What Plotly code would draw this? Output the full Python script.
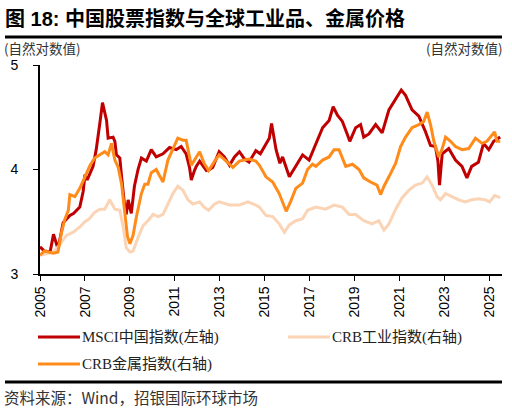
import plotly.graph_objects as go

# MSCI中国指数 (自然对数值, 左轴)
msci_t = [2005.0, 2005.2, 2005.45, 2005.6, 2005.8, 2006.03, 2006.33, 2006.5, 2006.77, 2006.92,
          2007.0, 2007.1, 2007.36, 2007.5, 2007.66, 2007.78, 2007.96, 2008.03, 2008.25, 2008.33,
          2008.4, 2008.55, 2008.63, 2008.77, 2008.84, 2008.92, 2009.06, 2009.2, 2009.36, 2009.51,
          2009.73, 2009.95, 2010.17, 2010.47, 2010.76, 2011.06, 2011.28, 2011.5, 2011.65, 2011.73,
          2011.87, 2011.95, 2012.1, 2012.4, 2012.54, 2012.68, 2012.97, 2013.2, 2013.43, 2013.65,
          2013.87, 2014.1, 2014.3, 2014.6, 2014.8, 2015.05, 2015.2, 2015.3, 2015.5, 2015.67,
          2015.79, 2016.09, 2016.38, 2016.68, 2016.97, 2017.27, 2017.57, 2017.86, 2018.04, 2018.23,
          2018.45, 2018.68, 2018.78, 2019.04, 2019.26, 2019.4, 2019.63, 2019.93, 2020.1, 2020.22,
          2020.52, 2020.82, 2021.07, 2021.26, 2021.55, 2021.85, 2022.15, 2022.37, 2022.59, 2022.7,
          2022.77, 2022.89, 2023.18, 2023.48, 2023.77, 2023.99, 2024.2, 2024.5, 2024.73, 2024.96,
          2025.18, 2025.47]
msci_v = [3.26, 3.22, 3.21, 3.38, 3.24, 3.49, 3.56, 3.58, 3.64, 3.79,
          3.95, 3.90, 4.03, 4.19, 4.44, 4.64, 4.47, 4.30, 4.31, 4.27,
          4.14, 4.11, 3.93, 3.64, 3.57, 3.71, 3.58, 3.84, 4.00, 4.11,
          4.08, 4.19, 4.12, 4.15, 4.21, 4.19, 4.22, 4.15, 4.02, 3.90,
          3.99, 4.03, 4.08, 3.99, 4.00, 4.02, 4.17, 4.12, 4.04, 4.12,
          4.17, 4.10, 4.07, 4.18, 4.15, 4.25, 4.30, 4.44, 4.19, 4.06,
          4.12, 3.93, 4.03, 4.14, 4.09, 4.25, 4.40, 4.47, 4.60, 4.52,
          4.46, 4.33, 4.27, 4.40, 4.43, 4.31, 4.34, 4.43, 4.38, 4.35,
          4.57, 4.67, 4.76, 4.71, 4.57, 4.51, 4.36, 4.23, 4.22, 4.08,
          3.85, 4.15, 4.20, 4.09, 4.03, 3.92, 4.03, 4.07, 4.25, 4.19,
          4.27, 4.31]

# CRB工业指数 (右轴)
ind_t = [2005.0, 2005.6, 2005.8, 2006.18, 2006.48, 2006.77, 2007.0, 2007.2, 2007.43, 2007.66,
         2007.88, 2008.1, 2008.33, 2008.55, 2008.7, 2008.84, 2009.0, 2009.14, 2009.36, 2009.58,
         2009.8, 2010.03, 2010.25, 2010.47, 2010.69, 2010.91, 2011.13, 2011.36, 2011.58, 2011.8,
         2012.1, 2012.3, 2012.5, 2012.77, 2012.97, 2013.43, 2013.87, 2014.25, 2014.6, 2014.76,
         2015.05, 2015.35, 2015.64, 2015.87, 2016.09, 2016.38, 2016.68, 2016.9, 2017.27, 2017.7,
         2018.08, 2018.45, 2018.75, 2019.04, 2019.4, 2019.77, 2020.07, 2020.3, 2020.52, 2020.82,
         2021.11, 2021.4, 2021.7, 2022.0, 2022.22, 2022.44, 2022.66, 2022.81, 2023.04, 2023.33,
         2023.63, 2023.92, 2024.2, 2024.5, 2024.8, 2025.0, 2025.22, 2025.47]
ind_v = [3.18, 3.21, 3.26, 3.37, 3.40, 3.45, 3.50, 3.53, 3.59, 3.62,
         3.62, 3.71, 3.62, 3.61, 3.45, 3.25, 3.21, 3.22, 3.35, 3.46,
         3.51, 3.57, 3.55, 3.57, 3.67, 3.77, 3.84, 3.80, 3.71, 3.67,
         3.69, 3.64, 3.61, 3.67, 3.69, 3.66, 3.66, 3.69, 3.66, 3.64,
         3.56, 3.55, 3.48, 3.40, 3.47, 3.51, 3.53, 3.61, 3.64, 3.62,
         3.66, 3.64, 3.57, 3.57, 3.51, 3.48, 3.51, 3.42, 3.48, 3.62,
         3.73, 3.80, 3.85, 3.87, 3.93, 3.85, 3.74, 3.71, 3.77, 3.74,
         3.71, 3.69, 3.71, 3.72, 3.71, 3.69, 3.75, 3.73]

# CRB金属指数 (右轴)
met_t = [2005.0, 2005.2, 2005.6, 2005.8, 2005.95, 2006.1, 2006.26, 2006.33, 2006.55, 2006.77,
         2007.0, 2007.2, 2007.43, 2007.66, 2007.88, 2008.03, 2008.18, 2008.33, 2008.48, 2008.63,
         2008.77, 2008.89, 2009.0, 2009.14, 2009.29, 2009.51, 2009.66, 2009.8, 2009.95, 2010.17,
         2010.32, 2010.47, 2010.69, 2010.91, 2011.13, 2011.36, 2011.5, 2011.73, 2011.95, 2012.1,
         2012.3, 2012.5, 2012.77, 2012.97, 2013.28, 2013.58, 2013.87, 2014.3, 2014.6, 2014.76,
         2015.05, 2015.35, 2015.64, 2015.87, 2015.95, 2016.16, 2016.38, 2016.68, 2016.9, 2017.12,
         2017.27, 2017.57, 2017.86, 2018.08, 2018.3, 2018.6, 2018.9, 2019.19, 2019.4, 2019.7,
         2019.99, 2020.15, 2020.3, 2020.52, 2020.82, 2021.04, 2021.26, 2021.55, 2021.85, 2022.07,
         2022.22, 2022.37, 2022.52, 2022.74, 2022.89, 2023.04, 2023.26, 2023.48, 2023.77, 2024.07,
         2024.37, 2024.66, 2024.88, 2025.22, 2025.33, 2025.47]
met_v = [3.18, 3.22, 3.20, 3.21, 3.39, 3.52, 3.61, 3.76, 3.74, 3.82,
         3.93, 4.03, 4.11, 4.14, 4.17, 4.14, 4.25, 4.09, 4.02, 3.86,
         3.61, 3.36, 3.29, 3.37, 3.55, 3.77, 3.86, 3.86, 3.97, 4.00,
         3.94, 3.88, 4.09, 4.20, 4.30, 4.28, 4.28, 4.04, 4.12, 4.17,
         4.06, 3.99, 4.08, 4.14, 4.08, 4.02, 4.08, 4.10, 4.08, 4.04,
         3.93, 3.88, 3.77, 3.64, 3.60, 3.70, 3.82, 3.87, 4.00, 4.05,
         4.03, 4.09, 4.12, 4.19, 4.19, 4.03, 4.05, 4.00, 3.92, 3.88,
         3.85, 3.76, 3.84, 3.93, 4.06, 4.22, 4.31, 4.40, 4.43, 4.46,
         4.55, 4.43, 4.27, 4.12, 4.20, 4.31, 4.27, 4.22, 4.19, 4.20,
         4.30, 4.25, 4.27, 4.36, 4.27, 4.27]

years = list(range(2005, 2026, 2))

names = ["MSCI中国指数(左轴)", "CRB工业指数(右轴)", "CRB金属指数(右轴)"]
colors = ["#C00000", "#FBD3B5", "#FF8C1A"]

cjk = "Noto Sans CJK SC"
W, H = 462, 209  # plot area in px


def px_x(p):
    return (p - 40) / W


def px_y(p):
    return (274 - p) / H


fig = go.Figure()
fig.add_trace(go.Scatter(x=msci_t, y=msci_v, mode="lines", name=names[0],
                         line=dict(color=colors[0], width=3)))
fig.add_trace(go.Scatter(x=ind_t, y=ind_v, mode="lines", name=names[1],
                         line=dict(color=colors[1], width=3), yaxis="y2"))
fig.add_trace(go.Scatter(x=met_t, y=met_v, mode="lines", name=names[2],
                         line=dict(color=colors[2], width=3), yaxis="y2"))

fig.update_layout(
    width=512, height=413,
    margin=dict(l=40, r=10, t=65, b=139, autoexpand=False),
    paper_bgcolor="white", plot_bgcolor="white",
    showlegend=False,
    xaxis=dict(range=[2005, 2025.55], tickvals=years, ticktext=[str(y) for y in years],
               tickangle=-90, ticks="outside", ticklen=5, tickcolor="black",
               showline=True, linecolor="black", linewidth=1.5, showgrid=False, zeroline=False,
               tickfont=dict(family="Liberation Sans", size=14, color="black")),
    yaxis=dict(range=[3, 5], tickvals=[3, 4, 5], ticks="outside", ticklen=5, tickcolor="black",
               showline=True, linecolor="black", linewidth=2, showgrid=False, zeroline=False,
               ticklabelstandoff=12,
               tickfont=dict(family="Liberation Sans", size=14, color="black")),
    yaxis2=dict(range=[3, 5], overlaying="y", side="right", showticklabels=False,
                showline=False, showgrid=False, zeroline=False),
    font=dict(family=cjk),
)

# legend drawn by hand: two columns, two rows
leg_pos = [(38, 337), (288, 337), (38, 364)]
for (lx, ly), name, col in zip(leg_pos, names, colors):
    fig.add_shape(type="line", xref="paper", yref="paper", x0=px_x(lx), x1=px_x(lx + 42),
                  y0=px_y(ly), y1=px_y(ly), line=dict(color=col, width=3))
    fig.add_annotation(text=name, xref="paper", yref="paper", x=px_x(lx + 42), y=px_y(ly),
                       xanchor="left", yanchor="middle", showarrow=False,
                       font=dict(family="Liberation Serif, " + cjk, size=15, color="#222"))

fig.add_annotation(text="<b>图 18: 中国股票指数与全球工业品、金属价格</b>", xref="paper", yref="paper",
                   x=px_x(3), y=px_y(18), xanchor="left", yanchor="middle", showarrow=False,
                   font=dict(family="Liberation Sans, " + cjk, size=20, color="black"))
fig.add_annotation(text="(自然对数值)", xref="paper", yref="paper",
                   x=px_x(2), y=px_y(48), xanchor="left", yanchor="middle", showarrow=False,
                   font=dict(family=cjk, size=13.5, color="#333"))
fig.add_annotation(text="(自然对数值)", xref="paper", yref="paper",
                   x=px_x(505), y=px_y(48), xanchor="right", yanchor="middle", showarrow=False,
                   font=dict(family=cjk, size=13.5, color="#333"))
fig.add_annotation(text="资料来源：Wind，招银国际环球市场", xref="paper", yref="paper",
                   x=px_x(2), y=px_y(397), xanchor="left", yanchor="middle", showarrow=False,
                   font=dict(family=cjk, size=15.5, color="#333"))

fig.add_shape(type="line", xref="paper", yref="paper", x0=px_x(5), x1=px_x(502),
              y0=px_y(37), y1=px_y(37), line=dict(color="black", width=3))
fig.add_shape(type="line", xref="paper", yref="paper", x0=px_x(5), x1=px_x(502),
              y0=px_y(382), y1=px_y(382), line=dict(color="black", width=3))

# drop the page's default body margin so the figure sits at the window's top-left
fig.write_html("out.html", config={"displayModeBar": False},
               post_script="document.body.style.margin='0';")
